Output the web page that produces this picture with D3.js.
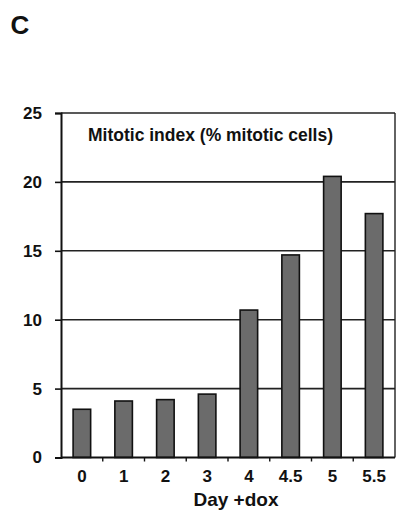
<!DOCTYPE html>
<html>
<head>
<meta charset="utf-8">
<script src="https://cdn.jsdelivr.net/npm/d3@7"></script>
<style>
  html, body { margin: 0; padding: 0; background: #fff; }
  svg { display: block; font-family: Arial, "Liberation Sans", Helvetica, sans-serif; }
</style>
</head>
<body>
<svg id="chart" width="397" height="515"></svg>
<script>
// Days after doxycycline addition and the mitotic index measured at each
const days = ["0", "1", "2", "3", "4", "4.5", "5", "5.5"];
const mitoticIndex = [3.5, 4.1, 4.2, 4.6, 10.7, 14.7, 20.4, 17.7];
const yTicks = [0, 5, 10, 15, 20, 25];

const panelLabel = "C";
const chartTitle = "Mitotic index (% mitotic cells)";
const xAxisTitle = "Day +dox";

const svg = d3.select("#chart");
const margin = { top: 113, right: 2, bottom: 57.5, left: 61 };
const W = 397, H = 515;
const plotW = W - margin.left - margin.right;
const plotH = H - margin.top - margin.bottom;

const x = d3.scaleBand().domain(days).range([0, plotW]).paddingInner(0.58).paddingOuter(0.29);
const y = d3.scaleLinear().domain([0, 25]).range([plotH, 0]);

const g = svg.append("g").attr("transform", `translate(${margin.left},${margin.top})`);

// Horizontal gridlines at every tick (the top one closes the frame)
g.append("g").selectAll("line").data(yTicks.filter(d => d > 0)).join("line")
  .attr("x1", 0).attr("x2", plotW)
  .attr("y1", d => y(d)).attr("y2", d => y(d))
  .attr("stroke", "#222").attr("stroke-width", 1.6);

// Right edge of the frame
g.append("line")
  .attr("x1", plotW).attr("x2", plotW).attr("y1", 0).attr("y2", plotH)
  .attr("stroke", "#222").attr("stroke-width", 1.4);

// Bars
g.append("g").selectAll("rect").data(mitoticIndex).join("rect")
  .attr("x", (d, i) => x(days[i]))
  .attr("y", d => y(d))
  .attr("width", x.bandwidth())
  .attr("height", d => y(0) - y(d))
  .attr("fill", "#6b6b6b")
  .attr("stroke", "#111")
  .attr("stroke-width", 1.6);

// Y axis
const yAxis = g.append("g")
  .call(d3.axisLeft(y).tickValues(yTicks).tickSize(6).tickPadding(13).tickFormat(d3.format("d")));
yAxis.select(".domain").attr("stroke", "#111").attr("stroke-width", 2);
yAxis.selectAll(".tick line").attr("stroke", "#111").attr("stroke-width", 1.6);
yAxis.selectAll(".tick text")
  .attr("fill", "#111").attr("font-size", 17).attr("font-weight", "bold");

// X axis: ticks sit between the categories
const xAxis = g.append("g").attr("transform", `translate(0,${plotH})`);
xAxis.append("line").attr("x1", 0).attr("x2", plotW).attr("y1", 0).attr("y2", 0)
  .attr("stroke", "#111").attr("stroke-width", 2);
const step = x.step();
const boundaries = days.slice(1).map(d => x(d) - (step - x.bandwidth()) / 2);
xAxis.selectAll("line.sep").data(boundaries).join("line").attr("class", "sep")
  .attr("x1", d => d).attr("x2", d => d).attr("y1", 0).attr("y2", 4)
  .attr("stroke", "#111").attr("stroke-width", 1.4);
xAxis.selectAll("text.cat").data(days).join("text").attr("class", "cat")
  .attr("x", d => x(d) + x.bandwidth() / 2)
  .attr("y", 24.5)
  .attr("text-anchor", "middle")
  .attr("font-size", 17).attr("font-weight", "bold").attr("fill", "#111")
  .text(d => d);

// Axis title
svg.append("text")
  .attr("x", 236).attr("y", 506)
  .attr("text-anchor", "middle")
  .attr("font-size", 19).attr("font-weight", "bold").attr("fill", "#111")
  .text(xAxisTitle);

// Title inside the plot
g.append("text")
  .attr("x", 27).attr("y", 27.5)
  .attr("font-size", 17.5).attr("font-weight", "bold").attr("fill", "#111")
  .text(chartTitle);

// Panel letter
svg.append("text")
  .attr("x", 10.5).attr("y", 34.3)
  .attr("font-size", 26).attr("font-weight", "bold").attr("fill", "#111")
  .text(panelLabel);
</script>
</body>
</html>
